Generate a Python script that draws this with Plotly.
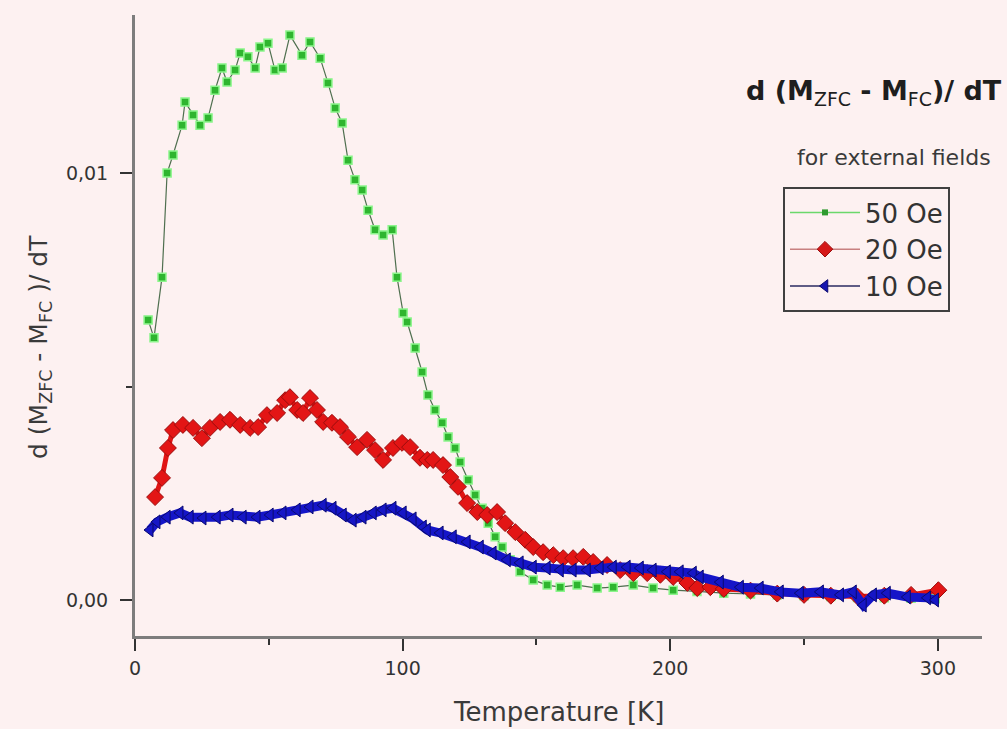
import plotly.graph_objects as go

# ---------------- data ----------------
T_50 = [4.9, 7.1, 10.1, 12.0, 14.2, 17.6, 18.7, 21.7, 24.3, 27.3, 29.9, 32.5, 34.4, 37.4,
        39.3, 42.2, 44.9, 46.7, 49.7, 52.3, 55.0, 57.9, 62.4, 65.4, 69.2, 72.1, 74.8, 77.4,
        79.6, 82.2, 84.9, 87.1, 89.7, 92.7, 96.1, 97.9, 100.2, 101.7, 104.7, 107.3, 109.5,
        112.1, 114.8, 117.0, 119.6, 121.5, 124.5, 127.1, 129.7, 132.0, 134.6, 137.2, 140.2,
        143.9, 148.8, 154.0, 158.9, 165.2, 172.7, 178.7, 186.2, 193.6, 201.1, 210.0, 220.0,
        230.0, 240.0, 250.0, 260.0, 270.0, 280.0, 290.0, 299.0]
V_50 = [0.00656, 0.00614, 0.00756, 0.01000, 0.01042, 0.01112, 0.01166, 0.01136, 0.01112,
        0.01129, 0.01194, 0.01246, 0.01213, 0.01241, 0.01281, 0.01272, 0.01246, 0.01295,
        0.01304, 0.01241, 0.01246, 0.01323, 0.01276, 0.01307, 0.01269, 0.01211, 0.01152,
        0.01117, 0.01030, 0.00984, 0.00960, 0.00913, 0.00867, 0.00855, 0.00867, 0.00756,
        0.00672, 0.00651, 0.00590, 0.00534, 0.00480, 0.00445, 0.00415, 0.00382, 0.00356,
        0.00323, 0.00281, 0.00246, 0.00215, 0.00180, 0.00148, 0.00124, 0.00094, 0.00066,
        0.00047, 0.00035, 0.00030, 0.00035, 0.00028, 0.00030, 0.00035, 0.00028, 0.00023,
        0.00020, 0.00016, 0.00014, 0.00012, 0.00010, 0.00008, 0.00006, 0.00005, 0.00004,
        0.00003]

T_20 = [7.5, 10.1, 12.3, 14.2, 17.9, 21.7, 25.0, 28.0, 31.8, 35.5, 39.3, 43.0, 46.0, 49.3,
        53.1, 56.1, 57.9, 60.6, 62.8, 65.4, 68.0, 70.3, 73.6, 76.6, 79.6, 83.0, 86.7, 89.7,
        92.7, 96.4, 99.8, 102.8, 106.5, 109.2, 111.4, 115.1, 117.8, 120.7, 124.1, 127.9,
        131.6, 135.3, 138.3, 142.1, 145.8, 148.8, 152.5, 156.3, 160.0, 163.7, 167.5, 171.2,
        176.4, 181.3, 186.2, 191.4, 196.3, 201.1, 206.4, 210.1, 215.0, 220.0, 230.0, 240.0,
        250.0, 260.0, 270.0, 280.0, 290.0, 300.2]
V_20 = [0.00241, 0.00286, 0.00356, 0.00398, 0.00410, 0.00403, 0.00379, 0.00403, 0.00417,
        0.00422, 0.00410, 0.00403, 0.00405, 0.00433, 0.00438, 0.00468, 0.00475, 0.00445,
        0.00438, 0.00473, 0.00445, 0.00417, 0.00415, 0.00405, 0.00382, 0.00358, 0.00375,
        0.00351, 0.00328, 0.00356, 0.00368, 0.00358, 0.00333, 0.00328, 0.00328, 0.00316,
        0.00288, 0.00265, 0.00227, 0.00206, 0.00199, 0.00206, 0.00180, 0.00159, 0.00141,
        0.00124, 0.00112, 0.00105, 0.00098, 0.00098, 0.00101, 0.00089, 0.00082, 0.00070,
        0.00063, 0.00063, 0.00059, 0.00054, 0.00040, 0.00028, 0.00030, 0.00026, 0.00022,
        0.00015, 0.00012, 0.00010, 0.00008, 0.00010, 0.00012, 0.00023]

T_10 = [5.6, 8.2, 12.0, 16.8, 20.6, 25.4, 30.7, 35.5, 40.4, 45.6, 50.5, 55.3, 60.6, 65.4,
        70.3, 74.0, 77.8, 81.5, 85.2, 89.0, 92.7, 96.4, 100.2, 103.9, 107.7, 109.2, 114.0,
        118.9, 124.1, 129.0, 133.8, 139.1, 143.9, 148.8, 154.0, 158.9, 163.7, 169.0, 173.8,
        178.7, 183.9, 188.8, 193.6, 198.9, 203.7, 208.6, 211.2, 218.7, 226.2, 233.6, 241.1,
        248.6, 256.1, 263.6, 268.4, 272.1, 275.9, 281.1, 288.6, 296.1, 299.1]
V_10 = [0.00164, 0.00183, 0.00194, 0.00204, 0.00194, 0.00192, 0.00194, 0.00199, 0.00194,
        0.00194, 0.00199, 0.00204, 0.00211, 0.00218, 0.00222, 0.00215, 0.00199, 0.00187,
        0.00194, 0.00204, 0.00211, 0.00215, 0.00204, 0.00190, 0.00171, 0.00164, 0.00157,
        0.00148, 0.00136, 0.00124, 0.00110, 0.00094, 0.00087, 0.00077, 0.00075, 0.00070,
        0.00070, 0.00070, 0.00075, 0.00077, 0.00077, 0.00075, 0.00070, 0.00066, 0.00066,
        0.00063, 0.00054, 0.00042, 0.00030, 0.00028, 0.00019, 0.00016, 0.00019, 0.00012,
        0.00019, -0.00012, 0.00012, 0.00016, 0.00007, 0.00005, 0.00000]

SERIES_NAMES = ["50 Oe", "20 Oe", "10 Oe"]
X_TICKS = [0, 100, 200, 300]
Y_TICKS = [0.0, 0.01]
Y_TICKTEXT = ["0,00", "0,01"]

# ---------------- layout helpers ----------------
W, H = 1007, 729
L, R, T, B = 135, 25, 15, 93
PW, PH = W - L - R, H - T - B


def px(x):
    return (x - L) / PW


def py(y):
    return (H - B - y) / PH


BG = "#fdf1f1"
FONT = "DejaVu Sans"

fig = go.Figure()

# data traces (drawn green, red, blue so blue is on top)
fig.add_trace(go.Scatter(
    x=T_50, y=V_50, mode="lines+markers", showlegend=False,
    line=dict(color="#4f6f4f", width=1.2),
    marker=dict(symbol="square", size=8, color="#2fb52f",
                line=dict(color="#8cf58c", width=1.5))))
fig.add_trace(go.Scatter(
    x=T_20, y=V_20, mode="lines+markers", showlegend=False,
    line=dict(color="#e01414", width=5),
    marker=dict(symbol="diamond", size=13, color="#e31515",
                line=dict(color="#9a0d0d", width=1))))
fig.add_trace(go.Scatter(
    x=T_10, y=V_10, mode="lines+markers", showlegend=False,
    line=dict(color="#1515c8", width=9),
    marker=dict(symbol="triangle-left", size=12, color="#1616c6",
                line=dict(color="#0a0a70", width=1))))

# legend proxies
fig.add_trace(go.Scatter(
    x=[None], y=[None], mode="lines+markers", name=SERIES_NAMES[0],
    line=dict(color="#6bd86b", width=1.5),
    marker=dict(symbol="square", size=6, color="#2f9a2f")))
fig.add_trace(go.Scatter(
    x=[None], y=[None], mode="lines+markers", name=SERIES_NAMES[1],
    line=dict(color="#c88080", width=1.5),
    marker=dict(symbol="diamond", size=12, color="#d51818",
                line=dict(color="#9a0d0d", width=1))))
fig.add_trace(go.Scatter(
    x=[None], y=[None], mode="lines+markers", name=SERIES_NAMES[2],
    line=dict(color="#2a2a60", width=1.5),
    marker=dict(symbol="triangle-left", size=11, color="#1616b0",
                line=dict(color="#0a0a70", width=1))))

axis_common = dict(
    showgrid=False, zeroline=False, showline=True, linecolor="#7d7d7d", linewidth=3,
    ticks="outside", tickcolor="#333333", tickwidth=2, ticklen=12,
    tickfont=dict(family=FONT, size=19, color="#333333"),
)

fig.update_xaxes(
    range=[0, 316.5], tickmode="array", tickvals=X_TICKS, ticktext=[str(v) for v in X_TICKS],
    ticklabelstandoff=1,
    minor=dict(ticks="outside", dtick=50, tick0=0, ticklen=6, tickwidth=2, tickcolor="#333333"),
    **axis_common)
fig.update_yaxes(
    range=[-0.000843, 0.0137], tickmode="array", tickvals=Y_TICKS, ticktext=Y_TICKTEXT,
    ticklabelstandoff=8,
    minor=dict(ticks="outside", dtick=0.005, tick0=0, ticklen=6, tickwidth=2, tickcolor="#333333"),
    **axis_common)

fig.update_layout(
    width=W, height=H, margin=dict(l=L, r=R, t=T, b=B),
    paper_bgcolor=BG, plot_bgcolor=BG,
    font=dict(family=FONT, color="#333333"),
    legend=dict(
        x=px(783), y=py(187), xanchor="left", yanchor="top",
        bgcolor=BG, bordercolor="#404040", borderwidth=2,
        font=dict(family=FONT, size=26, color="#333333"),
        itemwidth=70, tracegroupgap=0,
    ),
    annotations=[
        dict(text="<b>d (M</b><sub>ZFC</sub><b> - M</b><sub>FC</sub><b>)/ dT</b>",
             xref="paper", yref="paper",
             x=px(1004), y=py(92), xanchor="right", yanchor="middle", showarrow=False,
             font=dict(family=FONT, size=27, color="#1e1e1e")),
        dict(text="for external fields", xref="paper", yref="paper",
             x=px(993), y=py(157), xanchor="right", yanchor="middle", showarrow=False,
             font=dict(family=FONT, size=22, color="#3a3a3a")),
        dict(text="Temperature [K]", xref="paper", yref="paper",
             x=px(558), y=py(712), xanchor="center", yanchor="middle", showarrow=False,
             font=dict(family=FONT, size=26, color="#3a3a3a")),
        dict(text="d (M<sub>ZFC</sub> - M<sub>FC</sub> )/ dT", xref="paper", yref="paper",
             x=px(40), y=py(347), xanchor="center", yanchor="middle", showarrow=False,
             textangle=-90,
             font=dict(family=FONT, size=25, color="#3a3a3a")),
    ],
)

fig.write_html(
    "out.html",
    config={"displayModeBar": False},
    post_script="document.body.style.margin='0';document.body.style.overflow='hidden';",
)
